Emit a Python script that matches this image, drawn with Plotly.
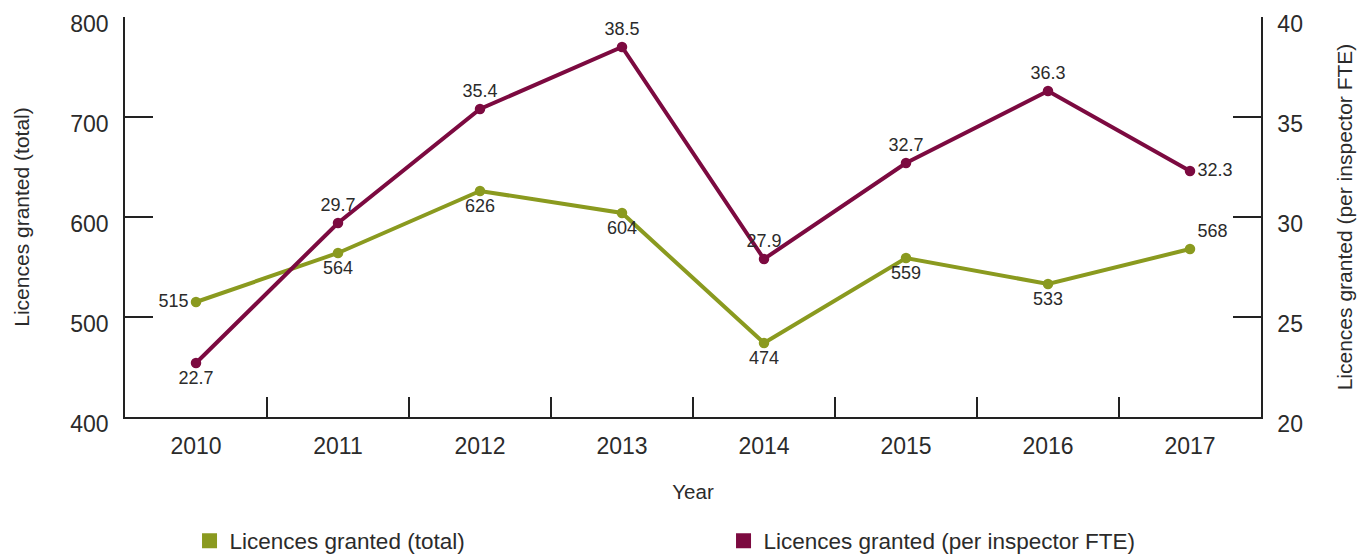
import plotly.graph_objects as go

# Licences granted per year, total and per inspector FTE
years = ["2010", "2011", "2012", "2013", "2014", "2015", "2016", "2017"]
licences_total = [515, 564, 626, 604, 474, 559, 533, 568]
licences_per_fte = [22.7, 29.7, 35.4, 38.5, 27.9, 32.7, 36.3, 32.3]

total_label_pos = ["middle left", "bottom center", "bottom center", "bottom center",
                   "bottom center", "bottom center", "bottom center", "top right"]
fte_label_pos = ["bottom center", "top center", "top center", "top center",
                 "top center", "top center", "top center", "middle right"]

GREEN = "#8a9a1f"
MAROON = "#7c0a40"
INK = "#222222"
TEXT = "#2b2b2b"
FONT = "Liberation Sans, Arial, sans-serif"

fig = go.Figure()

fig.add_trace(go.Scatter(
    x=years, y=licences_total, yaxis="y",
    mode="lines+markers+text",
    line=dict(color=GREEN, width=4),
    marker=dict(color=GREEN, size=10.5),
    text=[str(v) for v in licences_total],
    textposition=total_label_pos,
    textfont=dict(size=18, color=TEXT, family=FONT),
    cliponaxis=False, showlegend=False, hoverinfo="x+y",
))

fig.add_trace(go.Scatter(
    x=years, y=licences_per_fte, yaxis="y2",
    mode="lines+markers+text",
    line=dict(color=MAROON, width=4),
    marker=dict(color=MAROON, size=10.5),
    text=[f"{v:.1f}" for v in licences_per_fte],
    textposition=fte_label_pos,
    textfont=dict(size=18, color=TEXT, family=FONT),
    cliponaxis=False, showlegend=False, hoverinfo="x+y",
))

# Square legend keys
for name, color in [("Licences granted (total)", GREEN),
                    ("Licences granted (per inspector FTE)", MAROON)]:
    fig.add_trace(go.Scatter(
        x=[None], y=[None], mode="markers", name=name,
        marker=dict(symbol="square", color=color, size=15),
        showlegend=True,
    ))

fig.update_layout(
    width=1369, height=556,
    margin=dict(l=125, r=108, t=17, b=139, autoexpand=False),
    paper_bgcolor="white", plot_bgcolor="white",
    font=dict(family=FONT, color=TEXT),
    xaxis=dict(
        type="category", range=[-0.5, 7.5],
        tickson="boundaries", ticks="inside", ticklen=20, tickwidth=1.5,
        tickcolor=INK, showline=True, linecolor=INK, linewidth=1.5,
        showgrid=False, zeroline=False,
        tickfont=dict(size=23, color=TEXT),
        ticklabelstandoff=8,
        title=dict(text="Year", font=dict(size=20.5, color=TEXT), standoff=26),
    ),
    yaxis=dict(
        range=[400, 800], dtick=100, ticks="inside", ticklen=28, tickwidth=1.5,
        tickcolor=INK, showline=True, linecolor=INK, linewidth=1.5,
        showgrid=False, zeroline=False,
        tickfont=dict(size=23, color=TEXT),
        ticklabelstandoff=10, ticklabelshift=7, ticklabeloverflow="allow",
        title=dict(text="Licences granted (total)", font=dict(size=21, color=TEXT),
                   standoff=35),
    ),
    yaxis2=dict(
        range=[20, 40], dtick=5, overlaying="y", side="right",
        ticks="inside", ticklen=28, tickwidth=1.5,
        tickcolor=INK, showline=True, linecolor=INK, linewidth=1.5,
        showgrid=False, zeroline=False,
        tickfont=dict(size=23, color=TEXT),
        ticklabelstandoff=10, ticklabelshift=7, ticklabeloverflow="allow",
        title=dict(text="Licences granted (per inspector FTE)",
                   font=dict(size=21, color=TEXT), standoff=35),
    ),
    legend=dict(
        orientation="h", x=0.0568, xanchor="left", y=-0.31, yanchor="middle",
        font=dict(size=22.5, color=TEXT), itemwidth=30,
        entrywidth=489, bgcolor="rgba(0,0,0,0)",
    ),
)

fig.write_html("out.html")
